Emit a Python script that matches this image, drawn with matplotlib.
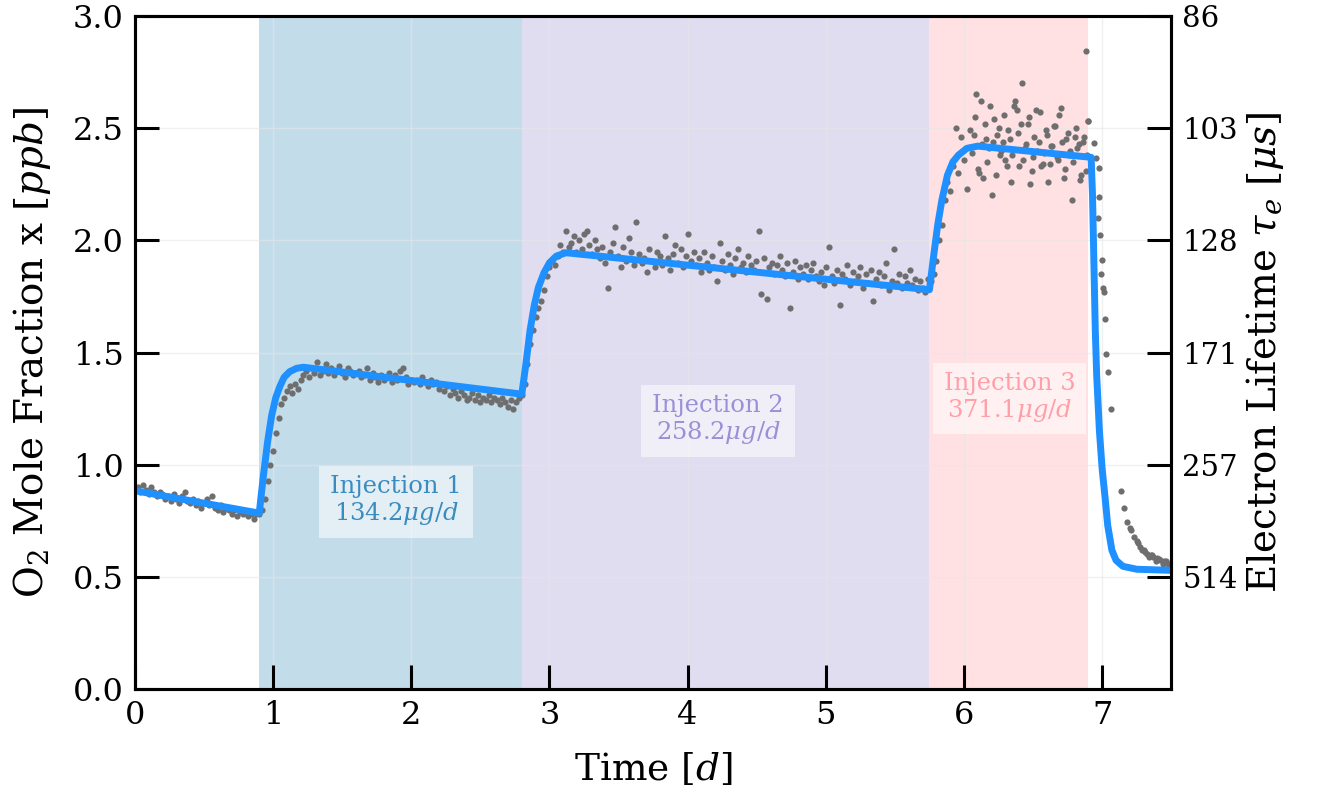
import numpy as np
import matplotlib
matplotlib.use("Agg")
import matplotlib.pyplot as plt

plt.rcParams['font.family'] = ['DejaVu Serif']
plt.rcParams['mathtext.fontset'] = 'dejavuserif'

# measured O2 mole fraction [ppb], grouped by period (evenly spaced samples)
t_pre = (0.00, 0.88)
x_pre = [0.89, 0.90, 0.88, 0.91, 0.89, 0.87, 0.90, 0.88, 0.86, 0.88,
         0.87, 0.85, 0.86, 0.84, 0.87, 0.85, 0.83, 0.86, 0.88, 0.84,
         0.83, 0.85, 0.82, 0.84, 0.81, 0.83, 0.85, 0.82, 0.86, 0.81,
         0.80, 0.82, 0.79, 0.81, 0.80, 0.78, 0.80, 0.77, 0.79, 0.78,
         0.79, 0.77, 0.78, 0.76, 0.78]

t_rise1 = (0.90, 1.20)
x_rise1 = [0.78, 0.80, 0.85, 0.93, 1.00, 1.06, 1.14, 1.21, 1.27, 1.30,
           1.33, 1.35, 1.32, 1.36, 1.34, 1.38]

t_inj1 = (1.22, 2.78)
x_inj1 = [1.40, 1.42, 1.39, 1.43, 1.41, 1.46, 1.40, 1.42, 1.45, 1.41,
          1.43, 1.40, 1.42, 1.44, 1.41, 1.39, 1.43, 1.42, 1.40, 1.41,
          1.42, 1.39, 1.40, 1.43, 1.38, 1.41, 1.39, 1.37, 1.40, 1.38,
          1.39, 1.41, 1.37, 1.40, 1.38, 1.42, 1.43, 1.39, 1.36, 1.38,
          1.37, 1.38, 1.36, 1.39, 1.37, 1.35, 1.38, 1.36, 1.37, 1.34,
          1.36, 1.33, 1.35, 1.31, 1.34, 1.32, 1.30, 1.33, 1.31, 1.29,
          1.30, 1.32, 1.29, 1.31, 1.28, 1.30, 1.29, 1.31, 1.28, 1.30,
          1.29, 1.27, 1.30, 1.28, 1.26, 1.29, 1.25, 1.28, 1.30]

t_rise2 = (2.80, 3.10)
x_rise2 = [1.31, 1.36, 1.45, 1.54, 1.60, 1.66, 1.70, 1.73, 1.78, 1.84,
           1.88, 1.91, 1.89, 1.93, 1.98, 1.95]

t_inj2 = (3.12, 5.74)
x_inj2 = [2.04, 1.97, 1.99, 2.02, 1.95, 2.00, 1.96, 2.03, 2.04, 1.98,
          1.94, 2.00, 1.96, 1.92, 1.97, 1.90, 1.79, 1.95, 1.99, 2.06,
          1.93, 1.88, 1.97, 1.91, 2.01, 1.95, 1.89, 2.08, 1.94, 1.90,
          1.92, 1.86, 1.96, 1.91, 1.88, 1.95, 1.93, 1.89, 2.02, 1.92,
          1.87, 1.94, 1.98, 1.90, 1.96, 1.88, 1.93, 2.03, 1.91, 1.95,
          1.89, 1.92, 1.86, 1.95, 1.90, 1.87, 1.93, 1.88, 1.82, 1.99,
          1.91, 1.87, 1.94, 1.89, 1.85, 1.92, 1.96, 1.88, 1.90, 1.86,
          1.93, 1.89, 1.87, 1.91, 2.04, 1.76, 1.92, 1.74, 1.88, 1.90,
          1.85, 1.89, 1.93, 1.87, 1.84, 1.90, 1.70, 1.86, 1.91, 1.83,
          1.88, 1.85, 1.89, 1.83, 1.87, 1.90, 1.84, 1.82, 1.86, 1.80,
          1.88, 1.97, 1.84, 1.81, 1.87, 1.71, 1.85, 1.83, 1.89, 1.80,
          1.86, 1.82, 1.84, 1.88, 1.79, 1.85, 1.81, 1.87, 1.73, 1.83,
          1.86, 1.80, 1.84, 1.90, 1.78, 1.82, 1.96, 1.81, 1.85, 1.79,
          1.84, 1.81, 1.87, 1.80, 1.83, 1.78, 1.82, 1.79, 1.77, 1.83]

t_rise3 = (5.76, 6.04)
x_rise3 = [1.82, 1.85, 1.91, 2.00, 2.07, 2.18, 2.26, 2.22, 2.33, 2.50,
           2.30, 2.46, 2.36, 2.23, 2.49]

t_inj3 = (6.06, 6.90)
x_inj3 = [2.39, 2.47, 2.55, 2.65, 2.32, 2.30, 2.62, 2.43, 2.28, 2.52,
          2.45, 2.35, 2.41, 2.60, 2.20, 2.44, 2.54, 2.29, 2.47, 2.50,
          2.38, 2.40, 2.44, 2.56, 2.36, 2.33, 2.49, 2.45, 2.26, 2.38,
          2.60, 2.62, 2.58, 2.48, 2.33, 2.52, 2.70, 2.36, 2.41, 2.43,
          2.52, 2.55, 2.25, 2.31, 2.37, 2.46, 2.58, 2.40, 2.44, 2.57,
          2.33, 2.34, 2.39, 2.49, 2.47, 2.26, 2.34, 2.42, 2.42, 2.51,
          2.51, 2.37, 2.36, 2.56, 2.59, 2.44, 2.28, 2.32, 2.45, 2.48,
          2.38, 2.40, 2.18, 2.35, 2.46, 2.50, 2.41, 2.43, 2.27, 2.29,
          2.44, 2.46, 2.31, 2.38, 2.53]

t_post = [6.884, 6.900, 6.944, 6.958, 6.975, 6.975, 6.970, 6.985, 7.000,
          6.990, 7.009, 7.010, 7.020, 7.030, 7.040, 7.067, 7.137, 7.156,
          7.180, 7.200, 7.210, 7.230, 7.250, 7.260, 7.277, 7.290, 7.300,
          7.310, 7.325, 7.340, 7.350, 7.360, 7.370, 7.390, 7.395, 7.410,
          7.420, 7.440, 7.445, 7.460, 7.470, 7.480, 7.490]
x_post = [2.844, 2.530, 2.435, 2.365, 2.324, 2.193, 2.100, 2.022, 1.913,
          1.850, 1.786, 1.771, 1.648, 1.494, 1.415, 1.247, 0.884, 0.810,
          0.746, 0.720, 0.709, 0.680, 0.660, 0.650, 0.634, 0.620, 0.620,
          0.610, 0.605, 0.590, 0.600, 0.600, 0.590, 0.570, 0.585, 0.580,
          0.575, 0.560, 0.570, 0.570, 0.563, 0.550, 0.560]

# fitted model curve (knots)
fit_t = [0.00, 0.90, 0.93, 0.96, 0.99, 1.02, 1.05, 1.08, 1.12, 1.17, 1.22,
         2.80, 2.83, 2.86, 2.89, 2.92, 2.96, 3.00, 3.05, 3.12,
         5.75, 5.78, 5.81, 5.84, 5.88, 5.92, 5.96, 6.02, 6.10,
         6.92, 6.93, 6.94, 6.95, 6.96, 6.98, 7.00, 7.02, 7.04, 7.07, 7.10,
         7.15, 7.25, 7.50]
fit_x = [0.885, 0.785, 0.95, 1.10, 1.22, 1.30, 1.35, 1.39, 1.415, 1.43, 1.435,
         1.315, 1.45, 1.60, 1.71, 1.79, 1.855, 1.90, 1.93, 1.945,
         1.78, 1.93, 2.07, 2.18, 2.29, 2.35, 2.38, 2.41, 2.42,
         2.37, 2.20, 1.90, 1.60, 1.40, 1.15, 0.98, 0.86, 0.73, 0.62, 0.575,
         0.548, 0.535, 0.53]

injections = [(0.90, 2.80), (2.80, 5.75), (5.75, 6.90)]
inj_labels = ["Injection 1\n134.2$\\mu g/d$", "Injection 2\n258.2$\\mu g/d$",
              "Injection 3\n371.1$\\mu g/d$"]
inj_text_pos = [(1.89, 0.84), (4.22, 1.20), (6.33, 1.30)]
inj_fill = ['#c3dcea', '#e0ddf1', '#ffe0e3']
inj_text = ['#3a8cc0', '#9a90d8', '#ff9fa8']

tau_ticks = [0.5, 1.0, 1.5, 2.0, 2.5, 3.0]
tau_labels = ['514', '257', '171', '128', '103', '86']

fig = plt.figure(figsize=(13.22, 7.96), dpi=100)
ax = fig.add_axes([0.102, 0.134, 0.784, 0.846])

for (a, b), c in zip(injections, inj_fill):
    ax.axvspan(a, b, color=c, lw=0, zorder=0.8)

segs = [(t_pre, x_pre), (t_rise1, x_rise1), (t_inj1, x_inj1), (t_rise2, x_rise2),
        (t_inj2, x_inj2), (t_rise3, x_rise3), (t_inj3, x_inj3)]
tt, xx = [], []
for (a, b), vals in segs:
    tt.extend(np.linspace(a, b, len(vals)))
    xx.extend(vals)
tt.extend(t_post)
xx.extend(x_post)
ax.scatter(tt, xx, s=20, color='#6e6e6e', lw=0, zorder=2)
ax.plot(fit_t, fit_x, color='#1e90ff', lw=5, zorder=3, solid_capstyle='butt')

for lab, (px, py), c in zip(inj_labels, inj_text_pos, inj_text):
    ax.text(px, py, lab, color=c, fontsize=17.5, ha='center', va='center', zorder=4,
            linespacing=1.1,
            bbox=dict(boxstyle='square,pad=0.45', fc='white', ec='none', alpha=0.55))

ax.set_xlim(0, 7.5)
ax.set_ylim(0, 3)
ax.set_yticks([0.0, 0.5, 1.0, 1.5, 2.0, 2.5, 3.0])
ax.grid(True, color='#e6e6e6', alpha=0.6, lw=1)
ax.set_xlabel("Time [$d$]", fontsize=27, labelpad=14)
ax.set_ylabel("O$_2$ Mole Fraction x [$ppb$]", fontsize=28, labelpad=14)
ax.tick_params(direction='in', length=17, width=2.2, labelsize=23, pad=8)
for sp in ax.spines.values():
    sp.set_linewidth(2.2)

ax2 = ax.twinx()
ax2.set_ylim(0, 3)
ax2.set_yticks(tau_ticks)
ax2.set_yticklabels(tau_labels)
ax2.set_ylabel("Electron Lifetime $\\tau_e$ [$\\mu s$]", fontsize=28, labelpad=4)
ax2.tick_params(direction='in', length=17, width=2.2, labelsize=21, pad=8)
for sp in ax2.spines.values():
    sp.set_linewidth(2.2)

fig.savefig("out.png", dpi=100)
